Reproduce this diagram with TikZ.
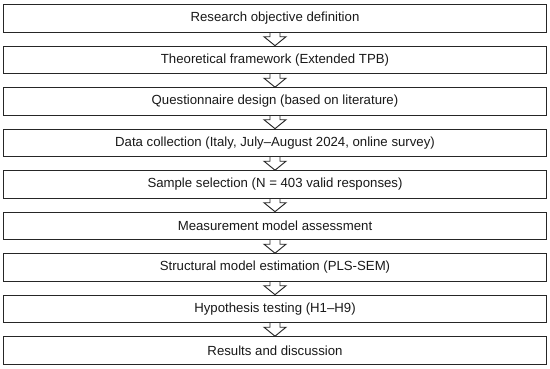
\documentclass[tikz,border=0pt]{standalone}
\usepackage{fontspec}
\setmainfont{Liberation Sans}
\usetikzlibrary{calc}
\newcommand\hollowarrow[2]{%
  \draw[arr] ($(#1.south)+(-5,0)$) -- ($(#1.south)+(-5,4)$) -- ($(#1.south)+(-11,4)$)
    -- (#2.north) -- ($(#1.south)+(11,4)$) -- ($(#1.south)+(5,4)$) -- ($(#1.south)+(5,0)$);}
\begin{document}
\begin{tikzpicture}[x=0.75pt,y=-0.75pt,
  box/.style={draw=black!85, line width=0.8pt, fill=white,
    minimum width=407.25pt, minimum height=20.6pt, inner sep=0pt,
    font=\fontsize{9.9}{12}\selectfont, text=black!90},
  arr/.style={draw=black!85, line width=0.7pt, line join=miter}]
\useasboundingbox (0,0) rectangle (550,368);
\foreach \t [count=\k] in {
  Research objective definition,
  Theoretical framework (Extended TPB),
  Questionnaire design (based on literature),
  {Data collection (Italy, July–August 2024, online survey)},
  Sample selection (N = 403 valid responses),
  Measurement model assessment,
  Structural model estimation (PLS-SEM),
  Hypothesis testing (H1–H9),
  Results and discussion}
  \node[box] (b\k) at (275, {18.45+(\k-1)*41.5}) {\t};
\foreach \k [evaluate=\k as \n using int(\k+1)] in {1,...,8}
  \hollowarrow{b\k}{b\n};
\end{tikzpicture}
\end{document}
